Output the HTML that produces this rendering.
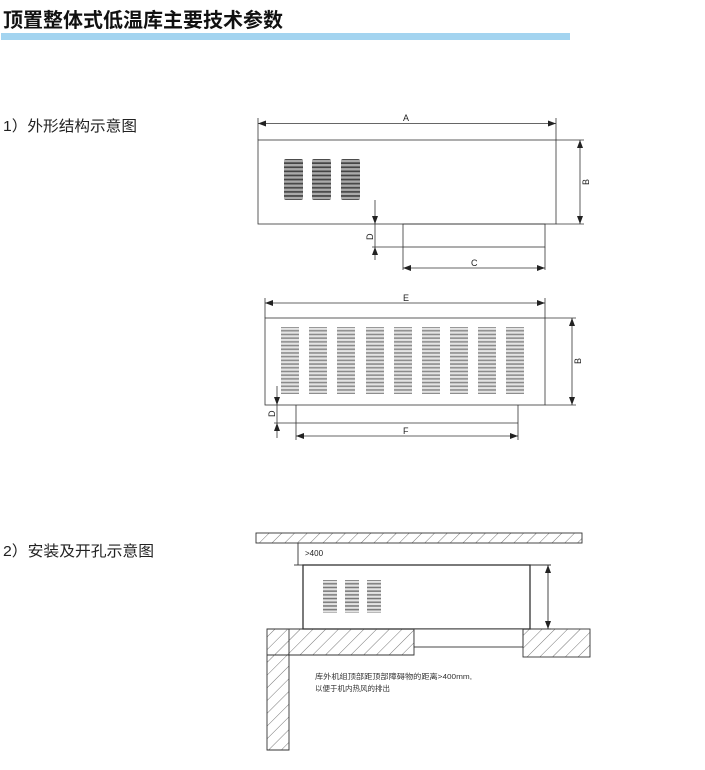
<!DOCTYPE html>
<html><head><meta charset="utf-8"><style>
html,body{margin:0;padding:0;background:#fff;width:705px;height:770px;overflow:hidden}
</style></head><body>
<svg width="705" height="770" viewBox="0 0 705 770" xmlns="http://www.w3.org/2000/svg" font-family="Liberation Sans, Noto Sans CJK SC, sans-serif">
<defs>
<pattern id="slat" x="0" y="159" width="1" height="4.1" patternUnits="userSpaceOnUse">
<rect x="0" y="0" width="1" height="4.1" fill="#444"/>
<rect x="0" y="0.9" width="1" height="2.4" fill="#aaa"/>
</pattern>
<pattern id="slat2" x="0" y="327" width="1" height="3.7" patternUnits="userSpaceOnUse">
<rect x="0" y="0" width="1" height="3.7" fill="#888"/>
<rect x="0" y="0.8" width="1" height="2.2" fill="#e4e4e4"/>
</pattern>
<pattern id="slat3" x="0" y="580" width="1" height="3.7" patternUnits="userSpaceOnUse">
<rect x="0" y="0" width="1" height="3.7" fill="#777"/>
<rect x="0" y="0.8" width="1" height="2.2" fill="#e4e4e4"/>
</pattern>
<pattern id="hatch" width="9" height="9" patternUnits="userSpaceOnUse" patternTransform="rotate(45)">
<line x1="0" y1="0" x2="0" y2="9" stroke="#555" stroke-width="0.8"/>
</pattern>
<marker id="ar" markerWidth="8" markerHeight="6" refX="8" refY="3" orient="auto" markerUnits="userSpaceOnUse"><path d="M0,0 L8,3 L0,6z" fill="#222"/></marker>
<marker id="al" markerWidth="8" markerHeight="6" refX="0" refY="3" orient="auto" markerUnits="userSpaceOnUse"><path d="M8,0 L0,3 L8,6z" fill="#222"/></marker>
</defs>

<text x="3" y="27" font-size="20" font-weight="bold" fill="#111" textLength="280" lengthAdjust="spacingAndGlyphs">顶置整体式低温库主要技术参数</text>
<rect x="1" y="33" width="569" height="7" fill="#a3d4f0"/>

<text x="3" y="131" font-size="15" fill="#222" textLength="134" lengthAdjust="spacingAndGlyphs">1）外形结构示意图</text>
<text x="3" y="556" font-size="15" fill="#222" textLength="151" lengthAdjust="spacingAndGlyphs">2）安装及开孔示意图</text>

<g stroke="#333" stroke-width="0.8" fill="none">
<rect x="258" y="140" width="298" height="84"/>
<line x1="258" y1="118" x2="258" y2="140"/><line x1="556" y1="118" x2="556" y2="140"/>
<line x1="258" y1="123.5" x2="556" y2="123.5" marker-start="url(#al)" marker-end="url(#ar)"/>
<line x1="556" y1="140" x2="584" y2="140"/><line x1="556" y1="224" x2="584" y2="224"/>
<line x1="580" y1="140" x2="580" y2="224" marker-start="url(#al)" marker-end="url(#ar)"/>
<rect x="403" y="224" width="142" height="23"/>
<line x1="403" y1="247" x2="403" y2="270"/><line x1="545" y1="247" x2="545" y2="270"/>
<line x1="403" y1="268" x2="545" y2="268" marker-start="url(#al)" marker-end="url(#ar)"/>
<line x1="372" y1="247" x2="403" y2="247"/>
<line x1="375" y1="200" x2="375" y2="224" marker-end="url(#ar)"/>
<line x1="375" y1="260" x2="375" y2="247" marker-end="url(#ar)"/>
<line x1="375" y1="224" x2="375" y2="247"/>

<rect x="265" y="318" width="280" height="87"/>
<line x1="265" y1="298" x2="265" y2="318"/><line x1="545" y1="298" x2="545" y2="318"/>
<line x1="265" y1="303" x2="545" y2="303" marker-start="url(#al)" marker-end="url(#ar)"/>
<line x1="545" y1="318" x2="576" y2="318"/><line x1="545" y1="405" x2="576" y2="405"/>
<line x1="572" y1="318" x2="572" y2="405" marker-start="url(#al)" marker-end="url(#ar)"/>
<line x1="296" y1="405" x2="296" y2="440"/><line x1="518" y1="405" x2="518" y2="440"/>
<line x1="296" y1="436" x2="518" y2="436" marker-start="url(#al)" marker-end="url(#ar)"/>
<line x1="274" y1="423" x2="518" y2="423"/>
<line x1="277" y1="386" x2="277" y2="405" marker-end="url(#ar)"/>
<line x1="277" y1="438" x2="277" y2="423" marker-end="url(#ar)"/>
<line x1="277" y1="405" x2="277" y2="423"/>
</g>

<g font-size="9" fill="#222">
<text x="403" y="121">A</text>
<text x="471" y="266">C</text>
<text x="403" y="301">E</text>
<text x="403" y="434">F</text>
<text transform="translate(589,185) rotate(-90)">B</text>
<text transform="translate(581,364) rotate(-90)">B</text>
<text transform="translate(373,240) rotate(-90)">D</text>
<text transform="translate(275,417) rotate(-90)">D</text>
</g>

<g fill="url(#slat)">
<rect x="284" y="159" width="19" height="41" rx="2"/>
<rect x="312" y="159" width="19" height="41" rx="2"/>
<rect x="341" y="159" width="19" height="41" rx="2"/>
</g>
<g fill="url(#slat2)">
<rect x="281" y="327" width="18" height="67"/>
<rect x="309" y="327" width="18" height="67"/>
<rect x="337" y="327" width="18" height="67"/>
<rect x="366" y="327" width="18" height="67"/>
<rect x="394" y="327" width="18" height="67"/>
<rect x="422" y="327" width="18" height="67"/>
<rect x="450" y="327" width="18" height="67"/>
<rect x="478" y="327" width="18" height="67"/>
<rect x="506" y="327" width="18" height="67"/>
</g>

<g stroke="#333" stroke-width="0.9">
<rect x="256" y="533" width="326" height="10" fill="url(#hatch)"/>
<line x1="298" y1="543" x2="298" y2="565"/><line x1="294" y1="565" x2="303" y2="565"/>
<rect x="303" y="565" width="227" height="64" fill="#fff" stroke-width="1.3"/>
<line x1="530" y1="565" x2="551" y2="565"/><line x1="530" y1="629" x2="551" y2="629"/>
<line x1="548" y1="565" x2="548" y2="629" marker-start="url(#al)" marker-end="url(#ar)"/>
<path d="M267,629 H414 V655 H289 V750 H267 Z" fill="url(#hatch)"/>
<line x1="267" y1="655" x2="289" y2="655"/><line x1="289" y1="629" x2="289" y2="655"/>
<rect x="414" y="629" width="109" height="18" fill="#fff"/>
<rect x="523" y="629" width="67" height="28" fill="url(#hatch)"/>
</g>
<text x="305" y="556" font-size="8" fill="#222">&gt;400</text>
<g fill="url(#slat3)">
<rect x="323" y="580" width="14" height="33"/>
<rect x="345" y="580" width="14" height="33"/>
<rect x="367" y="580" width="14" height="33"/>
</g>
<text x="315" y="679" font-size="7.5" fill="#333" textLength="157" lengthAdjust="spacingAndGlyphs">库外机组顶部距顶部障碍物的距离&gt;400mm,</text>
<text x="315" y="691" font-size="7.5" fill="#333">以便于机内热风的排出</text>
</svg>
</body></html>
